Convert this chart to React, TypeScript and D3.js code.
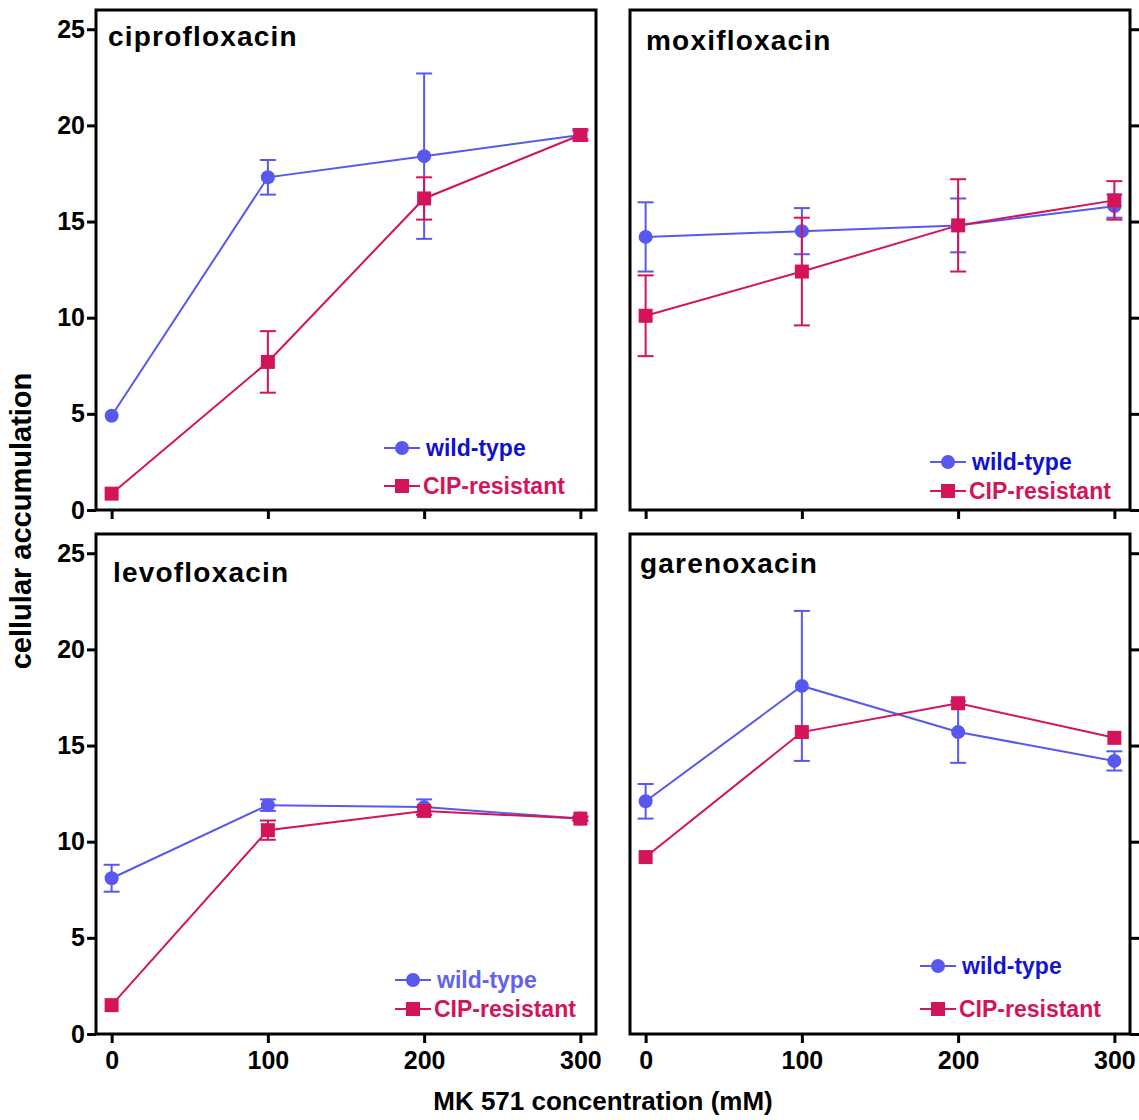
import { useEffect, useRef } from 'react';
import * as d3 from 'd3';

// MK 571 concentrations (x values)
const concentrations = [0, 100, 200, 300];
const xTicks = [0, 100, 200, 300];
const yTicks = [0, 5, 10, 15, 20, 25];

const drugs = ['ciprofloxacin', 'moxifloxacin', 'levofloxacin', 'garenoxacin'];
const seriesNames = ['wild-type', 'CIP-resistant'];

// means and error (+/-) per drug, wild-type then CIP-resistant
const cipWild = [4.9, 17.3, 18.4, 19.5];
const cipWildErr = [0, 0.9, 4.3, 0.2];
const cipResist = [0.85, 7.7, 16.2, 19.5];
const cipResistErr = [0, 1.6, 1.1, 0.3];

const moxWild = [14.2, 14.5, 14.8, 15.8];
const moxWildErr = [1.8, 1.2, 1.4, 0.6];
const moxResist = [10.1, 12.4, 14.8, 16.1];
const moxResistErr = [2.1, 2.8, 2.4, 1.0];

const levWild = [8.1, 11.9, 11.8, 11.2];
const levWildErr = [0.7, 0.3, 0.4, 0.1];
const levResist = [1.5, 10.6, 11.6, 11.2];
const levResistErr = [0, 0.5, 0.2, 0.1];

const garWild = [12.1, 18.1, 15.7, 14.2];
const garWildErr = [0.9, 3.9, 1.6, 0.5];
const garResist = [9.2, 15.7, 17.2, 15.4];
const garResistErr = [0, 0, 0, 0];

const BLUE = '#5858ee';
const RED = '#d4145a';
const FONT = "Arial, 'Liberation Sans', Helvetica, sans-serif";

const App = () => {
  const svgRef = useRef(null);

  useEffect(() => {
    const svg = d3.select(svgRef.current);
    svg.selectAll('*').remove();

    const panelW = 500;
    const panelH = 500;

    const panels = [
      { name: drugs[0], left: 96, top: 10, wild: cipWild, wildErr: cipWildErr, res: cipResist, resErr: cipResistErr,
        side: 'left', labelsX: false, title: [12, 36], legend: [306, 438], legendGap: 38, wildText: '#1010d0' },
      { name: drugs[1], left: 630, top: 10, wild: moxWild, wildErr: moxWildErr, res: moxResist, resErr: moxResistErr,
        side: 'right', labelsX: false, title: [16, 40], legend: [318, 452], legendGap: 29, wildText: '#1010d0' },
      { name: drugs[2], left: 96, top: 534, wild: levWild, wildErr: levWildErr, res: levResist, resErr: levResistErr,
        side: 'left', labelsX: true, title: [17, 48], legend: [317, 446], legendGap: 29, wildText: '#6262ea' },
      { name: drugs[3], left: 630, top: 534, wild: garWild, wildErr: garWildErr, res: garResist, resErr: garResistErr,
        side: 'right', labelsX: true, title: [10, 39], legend: [308, 432], legendGap: 43, wildText: '#1414d2' },
    ];

    panels.forEach((p) => {
      const g = svg.append('g').attr('transform', `translate(${p.left},${p.top})`);

      const x = d3.scaleLinear().domain([-10, 310]).range([0, panelW]);
      const y = d3.scaleLinear().domain([0, 26]).range([panelH, 0]);

      // frame
      g.append('rect')
        .attr('width', panelW)
        .attr('height', panelH)
        .attr('fill', 'none')
        .attr('stroke', '#000')
        .attr('stroke-width', 3);

      // y axis ticks
      const yAxis = p.side === 'left' ? d3.axisLeft(y) : d3.axisRight(y);
      const ya = g.append('g')
        .attr('transform', p.side === 'left' ? 'translate(0,0)' : `translate(${panelW},0)`)
        .call(yAxis.tickValues(yTicks).tickSize(9).tickPadding(2).tickFormat((d) => (p.side === 'left' ? `${d}` : '')));
      ya.select('.domain').remove();
      ya.selectAll('.tick line').attr('stroke-width', 3);
      ya.selectAll('.tick text')
        .attr('font-family', FONT)
        .attr('font-weight', 'bold')
        .attr('font-size', 25)
        .attr('fill', '#000');

      // x axis ticks
      const xa = g.append('g')
        .attr('transform', `translate(0,${panelH})`)
        .call(d3.axisBottom(x).tickValues(xTicks).tickSize(9).tickPadding(8).tickFormat((d) => (p.labelsX ? `${d}` : '')));
      xa.select('.domain').remove();
      xa.selectAll('.tick line').attr('stroke-width', 3);
      xa.selectAll('.tick text')
        .attr('font-family', FONT)
        .attr('font-weight', 'bold')
        .attr('font-size', 25)
        .attr('fill', '#000');

      // title
      g.append('text')
        .attr('x', p.title[0])
        .attr('y', p.title[1])
        .attr('font-family', FONT)
        .attr('font-weight', 'bold')
        .attr('font-size', 28)
        .attr('letter-spacing', 1.2)
        .attr('fill', '#000')
        .text(p.name);

      const line = d3.line()
        .x((d) => x(d[0]))
        .y((d) => y(d[1]));

      const series = [
        { vals: p.wild, err: p.wildErr, color: BLUE, shape: 'circle' },
        { vals: p.res, err: p.resErr, color: RED, shape: 'square' },
      ];

      series.forEach((s) => {
        const pts = concentrations.map((c, i) => [c, s.vals[i], s.err[i]]);

        // error bars
        pts.filter((d) => d[2] > 0).forEach((d) => {
          const eg = g.append('g').attr('stroke', s.color).attr('stroke-width', 2);
          eg.append('line')
            .attr('x1', x(d[0])).attr('x2', x(d[0]))
            .attr('y1', y(d[1] - d[2])).attr('y2', y(d[1] + d[2]));
          [d[1] - d[2], d[1] + d[2]].forEach((v) => {
            eg.append('line')
              .attr('x1', x(d[0]) - 8).attr('x2', x(d[0]) + 8)
              .attr('y1', y(v)).attr('y2', y(v));
          });
        });

        g.append('path')
          .datum(pts)
          .attr('fill', 'none')
          .attr('stroke', s.color)
          .attr('stroke-width', 2)
          .attr('d', line);

        if (s.shape === 'circle') {
          g.selectAll(null)
            .data(pts)
            .enter()
            .append('circle')
            .attr('cx', (d) => x(d[0]))
            .attr('cy', (d) => y(d[1]))
            .attr('r', 7)
            .attr('fill', s.color);
        } else {
          g.selectAll(null)
            .data(pts)
            .enter()
            .append('rect')
            .attr('x', (d) => x(d[0]) - 7)
            .attr('y', (d) => y(d[1]) - 7)
            .attr('width', 14)
            .attr('height', 14)
            .attr('fill', s.color);
        }
      });

      // legend
      const lg = g.append('g').attr('transform', `translate(${p.legend[0]},${p.legend[1]})`);
      seriesNames.forEach((name, i) => {
        const color = i === 0 ? BLUE : RED;
        const row = lg.append('g').attr('transform', `translate(0,${i * p.legendGap})`);
        row.append('line')
          .attr('x1', -18).attr('x2', 18)
          .attr('stroke', color)
          .attr('stroke-width', 2);
        if (i === 0) {
          row.append('circle').attr('r', 7).attr('fill', color);
        } else {
          row.append('rect').attr('x', -7).attr('y', -7).attr('width', 14).attr('height', 14).attr('fill', color);
        }
        row.append('text')
          .attr('x', i === 0 ? 24 : 21)
          .attr('dy', '0.35em')
          .attr('font-family', FONT)
          .attr('font-weight', 'bold')
          .attr('font-size', 23)
          .attr('fill', i === 0 ? p.wildText : RED)
          .text(name);
      });
    });

    // axis titles
    svg.append('text')
      .attr('transform', 'translate(31,521) rotate(-90)')
      .attr('text-anchor', 'middle')
      .attr('font-family', FONT)
      .attr('font-size', 29)
      .attr('font-weight', 'bold')
      .attr('fill', '#000')
      .text('cellular accumulation');

    svg.append('text')
      .attr('x', 603)
      .attr('y', 1110)
      .attr('text-anchor', 'middle')
      .attr('font-family', FONT)
      .attr('font-size', 26)
      .attr('font-weight', 'bold')
      .attr('fill', '#000')
      .text('MK 571 concentration (mM)');
  }, []);

  return (
    <svg
      ref={svgRef}
      width={1139}
      height={1120}
      style={{ position: 'absolute', left: 0, top: 0, background: '#fff' }}
    />
  );
};

export default App;
